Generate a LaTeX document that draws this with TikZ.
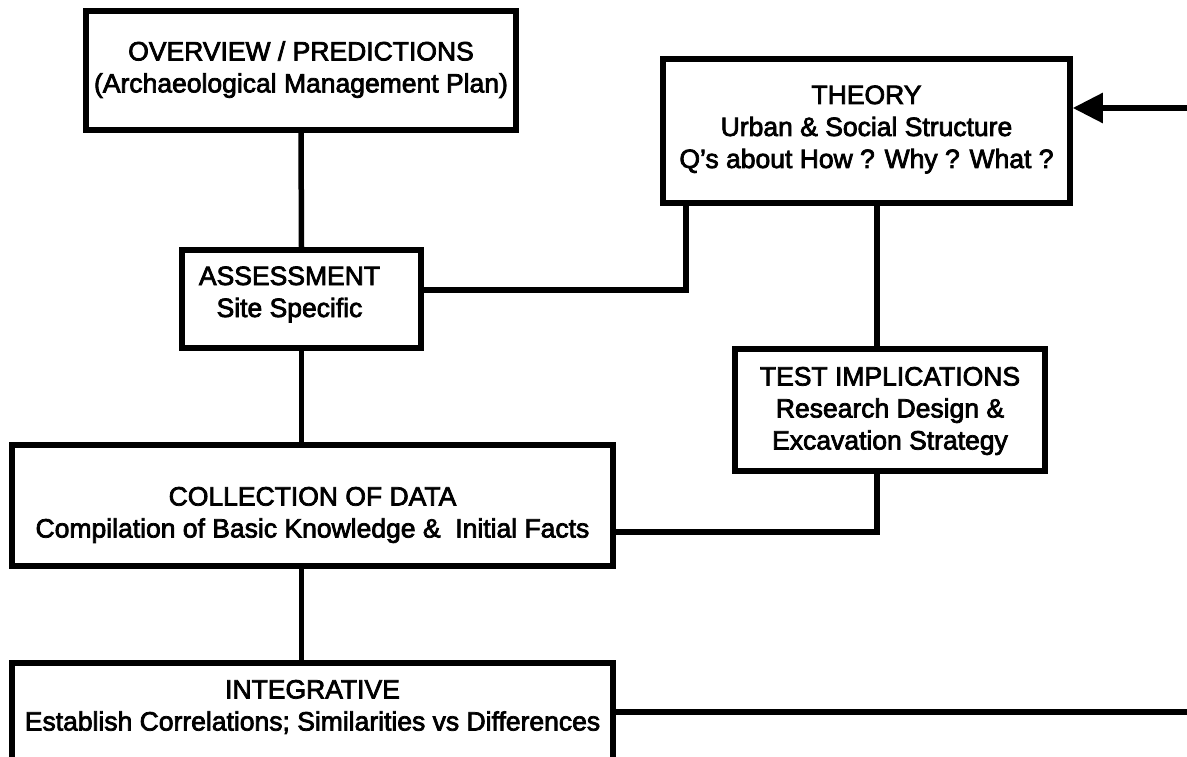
\documentclass[tikz,border=0pt]{standalone}
\usepackage{fontspec}
\setmainfont{Liberation Sans}[FakeBold=2.8]
\usetikzlibrary{arrows.meta}
\newcommand\bxt[2]{\raisebox{#1}[\height][\depth]{\begin{tabular}{@{}c@{}}#2\end{tabular}}}
\begin{document}
\begin{tikzpicture}[x=1pt,y=-1pt,
  box/.style={draw, line width=5.5pt, inner sep=0pt, line join=miter,
    font=\fontsize{26.5}{32}\selectfont},
  conn/.style={draw, line width=5.5pt, line join=miter}]
\useasboundingbox (0,0) rectangle (1187,757);
\clip (0,0) rectangle (1187,757);
\fill[white] (0,0) rectangle (1187,757);
% boxes
\node[box, minimum width=430pt, minimum height=119pt] (ov) at (301,70.5)
  {\bxt{0.5pt}{OVERVIEW / PREDICTIONS\\(Archaeological Management Plan)}};
\node[box, minimum width=239pt, minimum height=98pt] (as) at (301.5,299)
  {\bxt{4.4pt}{ASSESSMENT\\Site Specific}\hspace*{24pt}};
\node[box, minimum width=407pt, minimum height=144pt] (th) at (866.5,131)
  {\bxt{1.4pt}{THEORY\\Urban \& Social Structure\\Q’s about How ? Why ? What ?}};
\node[box, minimum width=310pt, minimum height=122pt] (te) at (890,410)
  {\bxt{-1.1pt}{TEST IMPLICATIONS\\Research Design \&\\Excavation Strategy}};
\node[box, minimum width=601pt, minimum height=121pt] (co) at (312.5,505.5)
  {\bxt{-9.6pt}{COLLECTION OF DATA\\Compilation of Basic Knowledge \&~ Initial Facts}};
\node[box, minimum width=601pt, minimum height=117pt] (in) at (312.5,721.5)
  {\bxt{13.4pt}{INTEGRATIVE\\Establish Correlations; Similarities vs Differences}};
% junction points
\coordinate (j1) at (686,290);
\coordinate (j2) at (877,532);
\coordinate (r1) at (1192,712);
\coordinate (r2) at (1192,108);
% connectors
\draw[conn] (ov.south) -- (as.north);
\draw[conn] (as.south) -- (as.south |- co.north);
\draw[conn] (as.south |- co.south) -- (as.south |- in.north);
\draw[conn] (th.south -| j1) -- (j1) -- (as.east |- j1);
\draw[conn] (th.south -| j2) -- (te.north -| j2);
\draw[conn] (te.south -| j2) -- (j2) -- (co.east |- j2);
\draw[conn] (in.east |- r1) -- (r1);
\draw[conn, -{Triangle[length=30pt,width=29pt]}] (r2) -- (th.east |- r2);
\end{tikzpicture}
\end{document}
